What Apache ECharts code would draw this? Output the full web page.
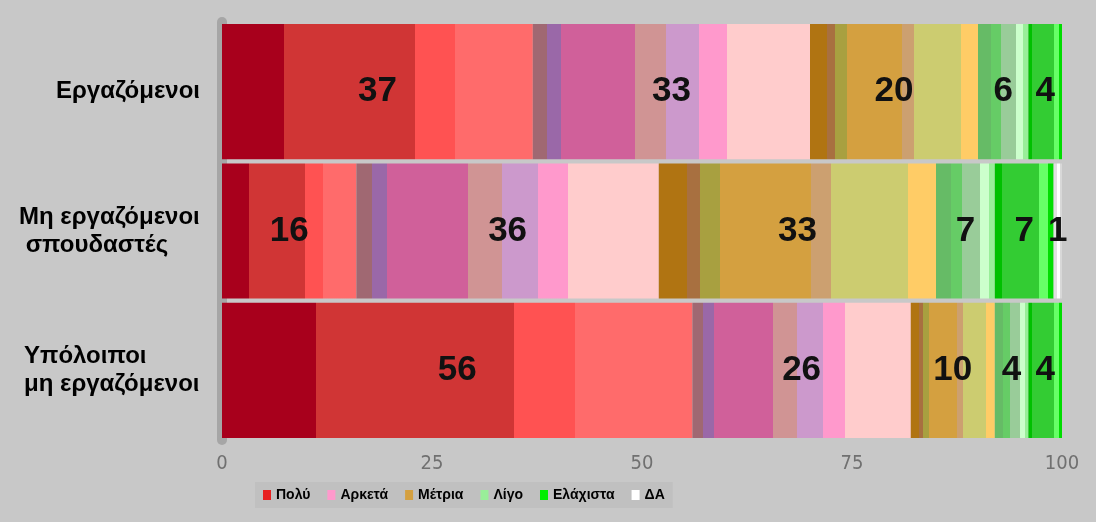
<!DOCTYPE html>
<html><head><meta charset="utf-8">
<script src="https://cdn.jsdelivr.net/npm/echarts@6/dist/echarts.min.js"></script>
<style>html,body{margin:0;padding:0;background:#c8c8c8}#c{width:1096px;height:522px}</style>
</head><body><div id="c"></div>
<script>
const categories = ['Εργαζόμενοι', 'Μη εργαζόμενοι\n σπουδαστές', 'Υπόλοιποι\nμη εργαζόμενοι'];
const seriesNames = ['Πολύ', 'Αρκετά', 'Μέτρια', 'Λίγο', 'Ελάχιστα', 'ΔΑ'];
const poly = [37, 16, 56];
const arketa = [33, 36, 26];
const metria = [20, 33, 10];
const ligo = [6, 7, 4];
const elaxista = [4, 7, 4];
const da = [0, 1, 0];
const xTicks = [0, 25, 50, 75, 100];

const values = [poly, arketa, metria, ligo, elaxista, da];
function grad(stops){
  const cs = [];
  for (let i = 0; i < stops.length; i++) {
    const [o, c] = stops[i];
    const next = i + 1 < stops.length ? stops[i+1][0] : 1;
    cs.push({offset: o, color: c}, {offset: next, color: c});
  }
  return new echarts.graphic.LinearGradient(0, 0, 1, 0, cs);
}
const fills = [
  grad([[0,'#a8001c'],[0.2,'#d03535'],[0.62,'#ff5252'],[0.75,'#ff6b6b']]),
  grad([[0,'#a06872'],[0.05,'#9a68a8'],[0.1,'#d0609a'],[0.37,'#d09494'],[0.48,'#cc99cc'],[0.6,'#ff99cc'],[0.7,'#ffcccc']]),
  grad([[0,'#b07412'],[0.1,'#a87040'],[0.15,'#a8a040'],[0.22,'#d4a040'],[0.55,'#cca070'],[0.62,'#cccc70'],[0.9,'#ffcc66']]),
  grad([[0,'#66bb66'],[0.25,'#66cc66'],[0.45,'#99cc99'],[0.75,'#ccffcc'],[0.9,'#99ee99']]),
  grad([[0,'#00c000'],[0.12,'#33cc33'],[0.75,'#66ff66'],[0.9,'#00dd00']]),
  grad([[0,'#e0e0e0'],[0.4,'#ffffff'],[0.8,'#d8d8d8']])
];
const legendColors = ['#e82020', '#ff99cc', '#d4a040', '#99ee99', '#00ee00', '#ffffff'];

// category label styling: multi-line labels left-aligned inside their own block
const LABEL_FONT = 'bold 24px "Liberation Sans", Arial, sans-serif';
const mctx = document.createElement('canvas').getContext('2d');
mctx.font = LABEL_FONT;
const rich = {};
categories.forEach((c, i) => {
  const lines = c.split('\n');
  const w = Math.max(...lines.map(l => mctx.measureText(l).width));
  rich['r' + i] = {width: Math.ceil(w), align: lines.length > 1 ? 'left' : 'right',
    fontSize: 24, fontWeight: 'bold', fontFamily: 'Liberation Sans, Arial, sans-serif', color: '#000', lineHeight: 28};
});

const chart = echarts.init(document.getElementById('c'));
chart.setOption({
  backgroundColor: '#c8c8c8',
  animation: false,
  grid: {left: 222, right: 34, top: 22, bottom: 82},
  legend: {
    left: 255, top: 482,
    backgroundColor: '#c0c0c0',
    padding: [6, 8],
    itemGap: 17,
    itemWidth: 8, itemHeight: 10,
    icon: 'rect',
    data: seriesNames.map((n, i) => ({name: n, itemStyle: {color: legendColors[i]}})),
    textStyle: {fontFamily: 'Liberation Sans, Arial, sans-serif', fontWeight: 'bold', fontSize: 14, color: '#000'}
  },
  xAxis: {
    type: 'value', min: 0, max: 100, interval: 25,
    axisLine: {show: false}, axisTick: {show: false}, splitLine: {show: false},
    axisLabel: {
      color: '#707070', fontSize: 20, margin: 14,
      fontFamily: 'DejaVu Sans Condensed, Liberation Sans Narrow, Arial, sans-serif',
      formatter: v => xTicks.includes(v) ? String(v) : ''
    }
  },
  yAxis: {
    type: 'category', data: categories, inverse: true,
    offset: 10,
    axisLine: {show: true, lineStyle: {color: '#a6a6a6', width: 10, cap: 'round'}},
    axisTick: {show: false},
    axisLabel: {
      margin: 12,
      formatter: (v, i) => v.split('\n').map(l => '{r' + i + '|' + l + '}').join('\n'),
      rich: rich
    }
  },
  series: seriesNames.map((n, i) => ({
    name: n, type: 'bar', stack: 'total',
    barCategoryGap: '3%',
    data: values[i],
    itemStyle: {color: fills[i]},
    label: {
      show: true, position: 'inside', color: '#111',
      fontFamily: 'Liberation Sans, Arial, sans-serif', fontWeight: 'bold', fontSize: 35,
      formatter: p => p.value > 0 ? String(p.value) : ''
    }
  }))
});
</script></body></html>
